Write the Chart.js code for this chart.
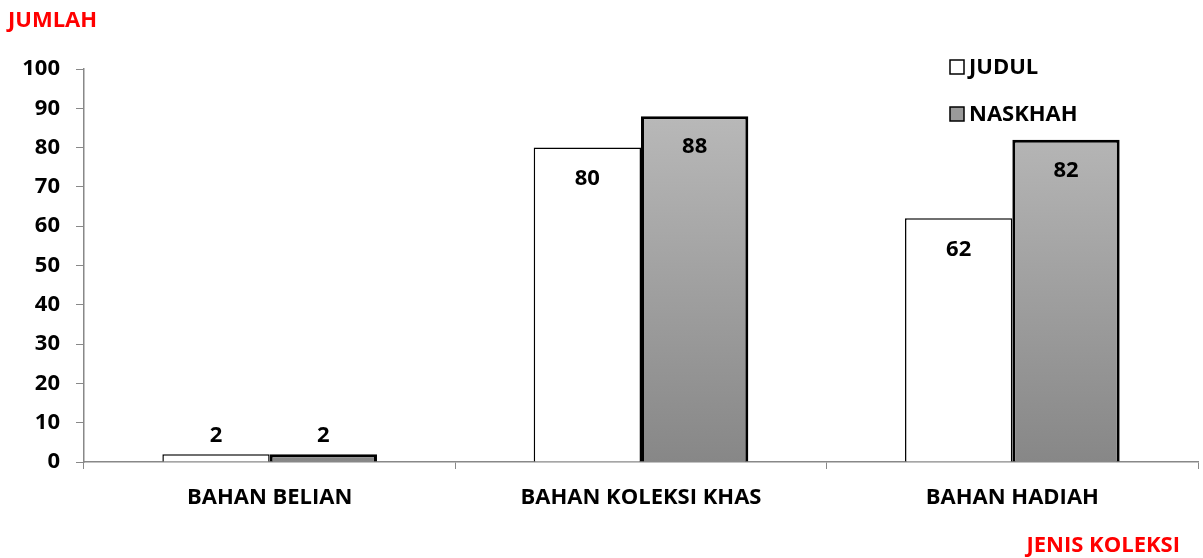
<!DOCTYPE html>
<html>
<head>
<meta charset="utf-8">
<script src="https://cdn.jsdelivr.net/npm/chart.js@4"></script>
<style>
  html, body { margin: 0; padding: 0; background: #fff; }
  #wrap { width: 1203px; height: 558px; position: relative; }
</style>
</head>
<body>
<div id="wrap"><canvas id="chart" width="1203" height="558"></canvas></div>
<script>
const categories = ["BAHAN BELIAN", "BAHAN KOLEKSI KHAS", "BAHAN HADIAH"];
const judul = [2, 80, 62];
const naskhah = [2, 88, 82];
const yTicks = [0, 10, 20, 30, 40, 50, 60, 70, 80, 90, 100];

const FONT = "'Open Sans', Lato, sans-serif";

// value labels, legend and axis titles
const extras = {
  id: 'extras',
  afterDatasetsDraw(chart) {
    const ctx = chart.ctx;
    ctx.save();
    ctx.font = "bold 22px " + FONT;
    ctx.fillStyle = "#000";
    ctx.textAlign = "center";
    ctx.textBaseline = "middle";
    chart.data.datasets.forEach((ds, i) => {
      chart.getDatasetMeta(i).data.forEach((bar, j) => {
        const h = bar.base - bar.y;
        const y = h < 40 ? bar.y - 18 : bar.y + 31;
        ctx.fillText(String(ds.data[j]), bar.x, y);
      });
    });

    // axis titles
    ctx.fillStyle = "#ff0000";
    ctx.font = "bold 22px " + FONT;
    ctx.textAlign = "left";
    ctx.fillText("JUMLAH", 8, 21);
    ctx.textAlign = "right";
    ctx.fillText("JENIS KOLEKSI", 1180, 546);

    // legend
    const items = [
      { label: "JUDUL", y: 67, fill: "#ffffff" },
      { label: "NASKHAH", y: 114, fill: "#9a9a9a" }
    ];
    items.forEach(it => {
      ctx.fillStyle = it.fill;
      ctx.fillRect(950, it.y - 7, 14, 14);
      ctx.strokeStyle = "#000";
      ctx.lineWidth = 1.5;
      ctx.strokeRect(950, it.y - 7, 14, 14);
      ctx.fillStyle = "#000";
      ctx.font = "bold 22px " + FONT;
      ctx.textAlign = "left";
      ctx.fillText(it.label, 969, it.y + 1);
    });
    ctx.restore();
  }
};

const ctx = document.getElementById('chart').getContext('2d');
const grad = ctx.createLinearGradient(0, 69, 0, 462);
grad.addColorStop(0, "#bfbfbf");
grad.addColorStop(1, "#878787");

const myChart = new Chart(ctx, {
  type: 'bar',
  data: {
    labels: categories,
    datasets: [
      {
        label: 'JUDUL',
        data: judul,
        backgroundColor: '#ffffff',
        borderColor: '#000000',
        borderWidth: 1.5,
        borderSkipped: 'bottom'
      },
      {
        label: 'NASKHAH',
        data: naskhah,
        backgroundColor: grad,
        borderColor: '#000000',
        borderWidth: 3,
        borderSkipped: 'bottom'
      }
    ]
  },
  options: {
    responsive: false,
    animation: false,
    devicePixelRatio: 1,
    layout: { padding: { top: 69, right: 5, left: 0, bottom: 0 } },
    datasets: {
      bar: { categoryPercentage: 0.578, barPercentage: 1.0 }
    },
    plugins: {
      legend: { display: false },
      tooltip: { enabled: false }
    },
    scales: {
      x: {
        grid: { display: true, drawOnChartArea: false, offset: true, color: '#888', tickLength: 7 },
        border: { color: '#888', width: 1.5 },
        ticks: { color: '#000', font: { family: FONT, size: 22, weight: 'bold' }, padding: 16 },
        afterFit(scale) { scale.height = 558 - 462; }
      },
      y: {
        min: 0,
        max: 100,
        afterBuildTicks(scale) { scale.ticks = yTicks.map(v => ({ value: v })); },
        grid: { display: true, drawOnChartArea: false, color: '#888', tickLength: 8 },
        border: { color: '#888', width: 1.5 },
        ticks: { color: '#000', font: { family: FONT, size: 22, weight: 'bold' }, padding: 16 },
        afterFit(scale) { scale.width = 84; }
      }
    }
  },
  plugins: [extras]
});
</script>
</body>
</html>
